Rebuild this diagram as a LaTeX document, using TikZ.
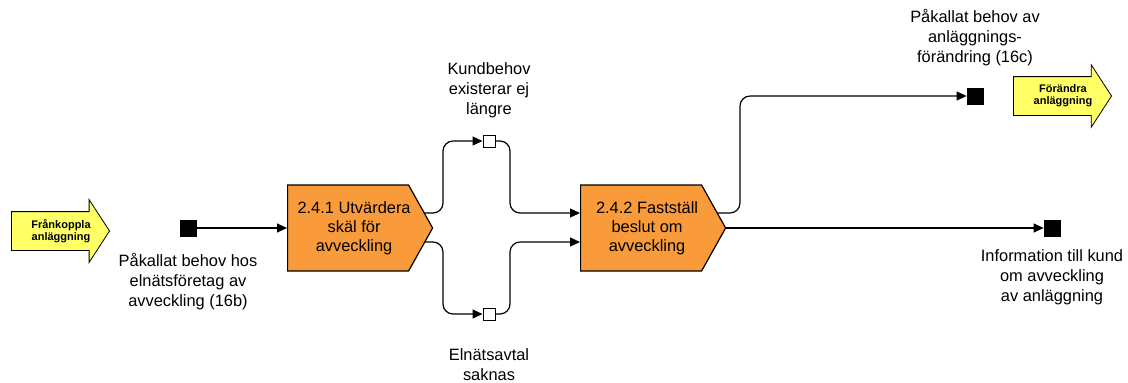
\documentclass[tikz,border=0pt]{standalone}
\usepackage{fontspec}
\setmainfont{Liberation Sans}
\usetikzlibrary{arrows.meta,shapes.symbols,shapes.arrows,backgrounds,positioning}
\definecolor{procorange}{RGB}{249,155,58}
\definecolor{extyellow}{RGB}{255,255,102}

\begin{document}
\begin{tikzpicture}[x=0.5pt,y=-0.5pt,
  proc/.style={signal, signal to=east, signal from=nowhere, signal pointer angle=121.6,
    draw=black, fill=procorange, line width=0.6pt, minimum width=72.5pt, minimum height=43pt,
    inner sep=1pt},
  proctext/.style={align=center, font=\fontsize{8.2}{9.5}\selectfont},
  ext/.style={single arrow, single arrow head extend=6pt, single arrow tip angle=114,
    draw=black, fill=extyellow, line width=0.4pt, minimum height=49pt, minimum width=31pt,
    inner xsep=1pt, inner ysep=9.5pt, anchor=tip},
  exttext/.style={align=center, anchor=center, xshift=-24.5pt, font=\fontsize{5.5}{6}\selectfont\bfseries},
  sqfull/.style={draw=black, fill=black, minimum size=8pt, inner sep=0pt},
  sqopen/.style={draw=black, fill=white, line width=0.5pt, minimum size=6pt, inner sep=0pt},
  lbl/.style={align=center, font=\fontsize{8.2}{10}\selectfont},
  flow/.style={line width=0.6pt, rounded corners=5pt, -{Triangle[length=5pt,width=4.5pt]}}]

\useasboundingbox (0,0) rectangle (1128,382);

% external triggers
\node[ext, label={[exttext]tip:Frånkoppla\\anläggning}] (fran) at (110,231) {};
\node[ext, label={[exttext]tip:Förändra\\anläggning}] (forandra) at (1112,96) {};

% process steps
\node[proc, anchor=west, label={[proctext, xshift=3pt]center:2.4.1 Utvärdera\\skäl för\\avveckling}] (p1) at (287,228) {};
\node[proc, anchor=west, label={[proctext, xshift=3pt]center:2.4.2 Fastställ\\beslut om\\avveckling}] (p2) at (580,228) {};

% information objects
\node[sqfull] (pb) at (188,228) {};
\node[lbl] (pbl) at (188,282) {Påkallat behov hos\\elnätsföretag av\\avveckling (16b)};
\node[sqopen] (kb) at (489,141) {};
\node[lbl] (kbl) at (489,90) {Kundbehov\\existerar ej\\längre};
\node[sqopen] (ea) at (489,314) {};
\node[lbl] (eal) at (489,365) {Elnätsavtal\\saknas};
\node[sqfull] (pc) at (975,96) {};
\node[lbl] (pcl) at (975,38) {Påkallat behov av\\anläggnings-\\förändring (16c)};
\node[sqfull] (info) at (1052,228) {};
\node[lbl] (infol) at (1052,277) {Information till kund\\om avveckling\\av anläggning};

\coordinate (s1) at (443,0);
\coordinate (j1) at (510,0);
\coordinate (s2) at (740,0);
\coordinate (o1a) at ([yshift=7.5pt]p1.center);
\coordinate (o1b) at ([yshift=-7pt]p1.center);
\coordinate (o2a) at ([yshift=7.5pt]p2.center);
\coordinate (in1) at ([yshift=7.5pt]p2.west);
\coordinate (in2) at ([yshift=-7pt]p2.west);

\begin{scope}[on background layer]
\draw[flow] (pb) -- (p1.west);
\draw[flow] (o1a) -| (kb.west -| s1) -- (kb.west);
\draw[flow] (o1b) -| (ea.west -| s1) -- (ea.west);
\draw[flow] (kb.east) -| (j1 |- in1) -- (in1);
\draw[flow] (ea.east) -| (j1 |- in2) -- (in2);
\draw[flow] (o2a) -| (pc.west -| s2) -- (pc.west);
\draw[flow] (p2.east) -- (info.west);
\end{scope}

\end{tikzpicture}
\end{document}
